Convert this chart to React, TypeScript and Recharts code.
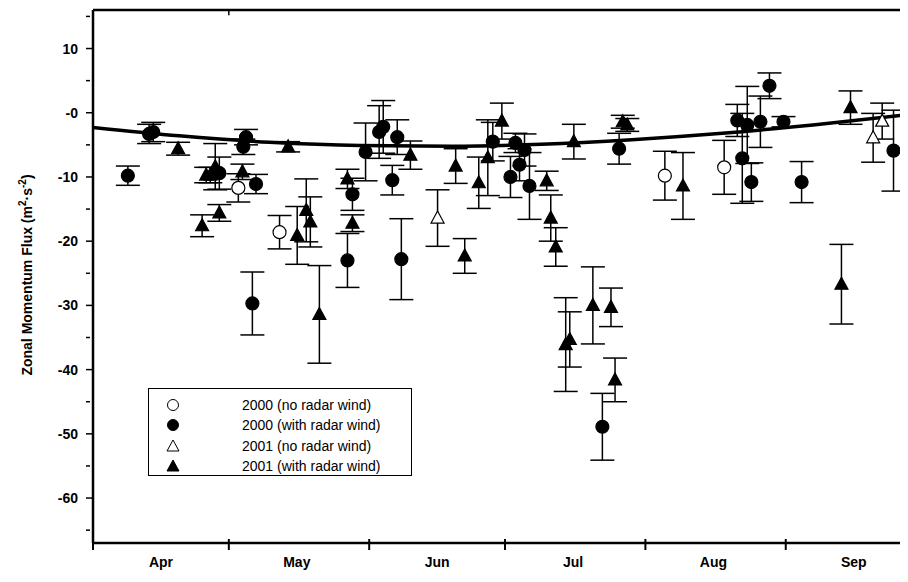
import React from "react";
import {
  ErrorBar,
  ReferenceLine,
  Scatter,
  ScatterChart,
  XAxis,
  YAxis,
} from "recharts";

// day of year, flux value, error half-width
const circles2000 = [
  { d: 98.7, v: -9.8, e: 1.5 },
  { d: 103.4, v: -3.3, e: 1.5 },
  { d: 104.3, v: -3.0, e: 1.5 },
  { d: 118.9, v: -9.4, e: 2.5 },
  { d: 124.2, v: -5.3, e: 1.2 },
  { d: 124.8, v: -3.8, e: 1.2 },
  { d: 127, v: -11.1, e: 1.5 },
  { d: 126.2, v: -29.7, e: 4.9 },
  { d: 147.2, v: -23, e: 4.2 },
  { d: 148.3, v: -12.7, e: 2.5 },
  { d: 151.2, v: -6.1, e: 4.5 },
  { d: 154.2, v: -3.0, e: 4.1 },
  { d: 155.1, v: -2.2, e: 4.1 },
  { d: 158.2, v: -3.8, e: 2.7 },
  { d: 157.1, v: -10.5, e: 2.3 },
  { d: 159.1, v: -22.8, e: 6.3 },
  { d: 179.3, v: -4.5, e: 3 },
  { d: 183.2, v: -10.0, e: 3.2 },
  { d: 184.3, v: -4.7, e: 1.5 },
  { d: 185.2, v: -8.1, e: 2.5 },
  { d: 186.3, v: -5.8, e: 2.5 },
  { d: 187.4, v: -11.4, e: 5.2 },
  { d: 203.5, v: -48.9, e: 5.2 },
  { d: 207.2, v: -5.6, e: 2.4 },
  { d: 233.3, v: -1.2, e: 2.5 },
  { d: 235.5, v: -1.9, e: 6 },
  { d: 234.4, v: -7.1, e: 7 },
  { d: 236.4, v: -10.8, e: 3 },
  { d: 238.4, v: -1.4, e: 4 },
  { d: 240.4, v: 4.2, e: 2 },
  { d: 243.5, v: -1.4, e: 0.8 },
  { d: 247.5, v: -10.8, e: 3.2 },
  { d: 267.8, v: -5.9, e: 6.3 },
];

const openCircles2000 = [
  { d: 123.1, v: -11.7, e: 2.2 },
  { d: 132.2, v: -18.6, e: 2.6 },
  { d: 217.3, v: -9.8, e: 3.8 },
  { d: 230.4, v: -8.5, e: 4.2 },
];

const openTriangles2001 = [
  { d: 167.1, v: -16.4, e: 4.4 },
  { d: 263.3, v: -3.9, e: 3.8 },
  { d: 265.3, v: -1.3, e: 2.8 },
];

const triangles2001 = [
  { d: 109.8, v: -5.6, e: 1 },
  { d: 115.1, v: -17.6, e: 1.7 },
  { d: 116, v: -9.7, e: 1.2 },
  { d: 116.9, v: -9.7, e: 1.2 },
  { d: 118, v: -8.4, e: 3.6 },
  { d: 118.9, v: -15.6, e: 1.3 },
  { d: 124, v: -9.2, e: 1.2 },
  { d: 134.1, v: -5.3, e: 0.8 },
  { d: 136.1, v: -19.1, e: 4.5 },
  { d: 138.1, v: -15.2, e: 4.9 },
  { d: 139, v: -17.0, e: 3.9 },
  { d: 141, v: -31.4, e: 7.6 },
  { d: 147.2, v: -10.3, e: 1.5 },
  { d: 148.3, v: -17.2, e: 1.3 },
  { d: 161.1, v: -6.6, e: 2.2 },
  { d: 171.1, v: -8.3, e: 2.7 },
  { d: 173.1, v: -22.3, e: 2.7 },
  { d: 176.2, v: -10.9, e: 4 },
  { d: 178.2, v: -7.0, e: 5.9 },
  { d: 181.3, v: -1.3, e: 2.8 },
  { d: 191.2, v: -10.6, e: 1.5 },
  { d: 192.1, v: -16.4, e: 3.6 },
  { d: 193.2, v: -20.9, e: 3 },
  { d: 197.2, v: -4.5, e: 2.7 },
  { d: 195.4, v: -36.1, e: 7.3 },
  { d: 196.3, v: -35.3, e: 4.3 },
  { d: 201.4, v: -30.0, e: 6 },
  { d: 205.4, v: -30.3, e: 3 },
  { d: 206.3, v: -41.6, e: 3.4 },
  { d: 208, v: -1.4, e: 1 },
  { d: 209, v: -1.9, e: 1 },
  { d: 221.3, v: -11.4, e: 5.2 },
  { d: 256.3, v: -26.7, e: 6.2 },
  { d: 258.3, v: 0.8, e: 2.6 },
];

const fitCurve = [
  { d: 91, v: -2.3 },
  { d: 110, v: -3.6 },
  { d: 130, v: -4.6 },
  { d: 150, v: -5.1 },
  { d: 170, v: -5.2 },
  { d: 190, v: -4.9 },
  { d: 210, v: -4.2 },
  { d: 230, v: -3.2 },
  { d: 250, v: -1.9 },
  { d: 271, v: -0.3 },
];

const monthTicks = [91, 121, 152, 182, 213, 244];
const monthLabels = ["Apr", "May", "Jun", "Jul", "Aug", "Sep"];
const yTicks = [-65, -60, -55, -50, -45, -40, -35, -30, -25, -20, -15, -10, -5, 0, 5, 10, 15];

const FONT = "'Liberation Sans', Arial, sans-serif";

const Dot = ({ cx, cy, fill }: any) =>
  cx == null ? null : <circle cx={cx} cy={cy} r={6.5} fill={fill} stroke="#000" strokeWidth={1.2} />;

const Tri = ({ cx, cy, fill }: any) =>
  cx == null ? null : (
    <polygon
      points={`${cx},${cy - 7} ${cx - 6.5},${cy + 5} ${cx + 6.5},${cy + 5}`}
      fill={fill}
      stroke="#000"
      strokeWidth={1.2}
    />
  );

const MonthTick = ({ x, y, index }: any) => (
  <g>
    <line x1={x} x2={x} y1={y - 12} y2={y - 1} stroke="#000" strokeWidth={2} />
    <text x={x + 68} y={y + 16} textAnchor="middle" fontFamily={FONT} fontWeight="bold" fontSize={14} fill="#000">
      {monthLabels[index]}
    </text>
  </g>
);

const FluxTick = ({ x, y, payload }: any) => {
  const v = payload.value;
  const major = v % 10 === 0;
  return (
    <g>
      <line x1={x + 1} x2={x + (major ? 9 : 5)} y1={y} y2={y} stroke="#000" strokeWidth={1.5} />
      {major && (
        <text x={x - 7} y={y + 5} textAnchor="end" fontFamily={FONT} fontWeight="bold" fontSize={14} fill="#000">
          {v === 0 ? "-0" : v}
        </text>
      )}
    </g>
  );
};

const legendRows = [
  { label: "2000 (no radar wind)", shape: "circle", fill: "#fff" },
  { label: "2000 (with radar wind)", shape: "circle", fill: "#000" },
  { label: "2001 (no radar wind)", shape: "tri", fill: "#fff" },
  { label: "2001 (with radar wind)", shape: "tri", fill: "#000" },
];

export default function App() {
  return (
    <div style={{ position: "relative", width: 908, height: 582, margin: -8, background: "#fff" }}>
      <ScatterChart width={908} height={582} margin={{ top: 10, right: 0, bottom: 9, left: 33 }}>
        <XAxis
          type="number"
          dataKey="d"
          domain={[91, 271]}
          ticks={monthTicks}
          tick={<MonthTick />}
          tickLine={false}
          axisLine={{ stroke: "#000", strokeWidth: 2.5 }}
          height={30}
          allowDataOverflow
        />
        <YAxis
          type="number"
          dataKey="v"
          domain={[-67, 16]}
          ticks={yTicks}
          tick={<FluxTick />}
          tickLine={false}
          axisLine={{ stroke: "#000", strokeWidth: 2.5 }}
          width={60}
          allowDataOverflow
        />
        <ReferenceLine y={16} stroke="#000" strokeWidth={2.5} />
        <ReferenceLine
          segment={[{ x: 121, y: 16 }, { x: 121, y: 15.2 }]}
          stroke="#000"
          strokeWidth={1.5}
        />
        <Scatter
          data={fitCurve}
          line={{ stroke: "#000", strokeWidth: 3.5 }}
          lineJointType="monotoneX"
          shape={() => null}
          isAnimationActive={false}
        />
        <Scatter data={openCircles2000} shape={<Dot fill="#fff" />} isAnimationActive={false}>
          <ErrorBar dataKey="e" direction="y" width={12} stroke="#000" strokeWidth={1.5} />
        </Scatter>
        <Scatter data={openTriangles2001} shape={<Tri fill="#fff" />} isAnimationActive={false}>
          <ErrorBar dataKey="e" direction="y" width={12} stroke="#000" strokeWidth={1.5} />
        </Scatter>
        <Scatter data={triangles2001} shape={<Tri fill="#000" />} isAnimationActive={false}>
          <ErrorBar dataKey="e" direction="y" width={12} stroke="#000" strokeWidth={1.5} />
        </Scatter>
        <Scatter data={circles2000} shape={<Dot fill="#000" />} isAnimationActive={false}>
          <ErrorBar dataKey="e" direction="y" width={12} stroke="#000" strokeWidth={1.5} />
        </Scatter>
      </ScatterChart>

      <div
        style={{
          position: "absolute",
          left: 26,
          top: 275,
          transform: "translate(-50%, -50%) rotate(-90deg)",
          whiteSpace: "nowrap",
          fontFamily: FONT,
          fontWeight: "bold",
          fontSize: 14,
        }}
      >
        Zonal Momentum Flux (m<sup style={{ fontSize: 10 }}>2</sup>·s<sup style={{ fontSize: 10 }}>-2</sup>)
      </div>

      <div
        style={{
          position: "absolute",
          left: 148,
          top: 388,
          width: 264,
          height: 88,
          border: "1px solid #000",
          boxSizing: "border-box",
          fontFamily: FONT,
          fontSize: 14,
        }}
      >
        {legendRows.map((r, i) => (
          <div key={r.label} style={{ position: "absolute", left: 0, top: 7 + i * 20.3, height: 18, width: "100%" }}>
            <svg width={20} height={18} style={{ position: "absolute", left: 14, top: 0 }}>
              {r.shape === "circle" ? (
                <circle cx={10} cy={9} r={5.5} fill={r.fill} stroke="#000" strokeWidth={1} />
              ) : (
                <polygon points="10,3 4,14 16,14" fill={r.fill} stroke="#000" strokeWidth={1} />
              )}
            </svg>
            <span style={{ position: "absolute", left: 93, top: 0, lineHeight: "18px" }}>{r.label}</span>
          </div>
        ))}
      </div>
    </div>
  );
}
